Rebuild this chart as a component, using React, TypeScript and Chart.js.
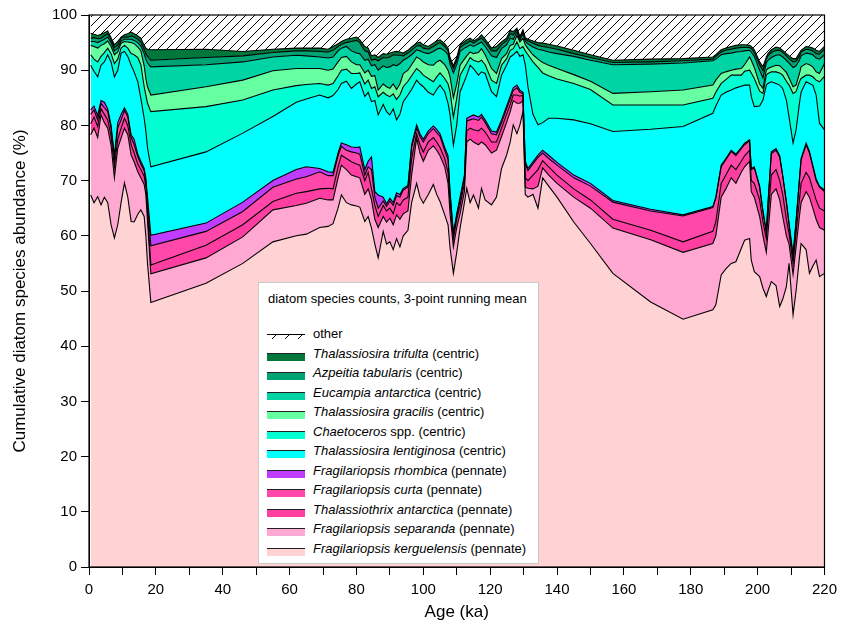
import React, { useEffect, useRef } from 'react';
import { Chart, registerables } from 'chart.js';

Chart.register(...registerables);

const FONT = '"Liberation Sans", Arial, Helvetica, sans-serif';

// Age (ka) of each sample
const ages = [0.5,1.5,2.6,3.6,4.6,5.6,6.6,7.6,8.6,9.6,10.6,11.6,12.6,13.5,14.6,15.5,16.5,17.0,17.5,18.5,
  35,46,55,62,65,69,71.5,73,74.5,75.5,
  77,78.5,80,81,82.5,83.5,84.5,85.5,86.5,88,
  89,90,91,92,93,94,95.4,96.5,98,99,
  100,101.5,103,104,105,106.4,107.4,108,109,110,
  111,112.3,113,114,115,116.5,117.4,118.5,120.4,121.9,
  123.4,124.9,126,126.9,128,128.9,129.8,130.5,131.3,132.8,
  134.3,135.7,137.5,140,145,150,156.7,168,177.7,186.6,
  187.5,189.1,190.5,192.1,193.5,195.1,196.1,197.6,198.1,199,
  200.6,201.6,202.6,203.1,204.1,205.5,206.6,207.5,208.6,209.4,
  210.6,211.5,212.5,213,214.5,215.5,216.5,217.5,218.5,220];

// Cumulative abundance (%) at the top of each species band, bottom to top
const cumKerguelensis = [67.4,66.0,67.1,65.6,67.0,66.0,62.0,59.6,62.0,66.0,69.6,67.0,62.6,62.5,63.9,64.7,63.5,60.0,55.0,47.9,
  51.4,55.0,58.9,60.0,60.3,61.5,61.7,62.2,65.0,67.4,
  66.0,65.6,65.4,65.2,62.6,63.5,61.4,58.5,56.0,60.8,
  58.5,58.9,57.5,59.5,58.0,60.0,61.0,66.0,69.5,67.0,
  65.9,67.5,69.3,67.5,66.2,63.8,62.0,57.8,53.2,57.0,
  61.4,66.0,68.6,66.0,67.4,65.0,68.6,66.5,65.6,67.0,
  72.2,74.6,77.0,80.1,78.5,80.1,82.5,67.5,67.0,67.5,
  65.0,70.5,69.0,67.0,62.5,58.6,53.2,48.0,44.9,46.6,
  47.5,52.9,54.0,55.0,55.3,57.7,59.2,59.5,55.6,53.5,
  52.6,50.5,49.0,50.0,51.7,51.0,47.2,48.5,50.8,55.0,
  45.7,50.0,56.0,58.6,57.5,53.2,54.5,55.6,52.6,53.2];

const cumSeparanda = [78.3,79.5,77.8,81.9,80.5,79.5,76.4,70.5,75.9,77.7,79.5,78.3,74.6,73.4,71.6,70.5,69.3,67.5,62.7,53.1,
  56.0,59.8,64.7,65.5,65.9,66.8,66.5,66.5,70.5,72.8,
  72.0,71.0,70.7,70.5,67.5,68.5,66.5,63.0,61.5,63.5,
  62.5,63.2,62.0,63.8,63.0,64.0,64.5,71.0,77.7,75.0,
  73.5,75.5,76.3,75.5,74.5,72.5,69.5,64.0,58.0,61.5,
  64.0,68.0,77.0,77.5,77.0,76.5,77.0,76.5,75.0,75.5,
  78.0,80.5,82.5,84.5,84.0,84.0,84.5,68.8,68.6,68.5,
  69.0,72.3,71.0,69.5,67.0,65.0,61.4,59.3,57.0,58.6,
  60.0,67.0,68.5,70.5,69.5,71.5,72.5,73.5,68.0,67.0,
  63.5,60.0,57.0,60.5,67.5,68.5,66.5,63.5,60.0,58.5,
  53.0,58.0,63.5,66.0,68.0,67.0,65.0,63.0,61.5,61.0];

const cumThalassiothrix = [80.3,81.5,79.8,83.0,82.0,81.0,78.0,72.5,77.5,79.5,81.3,80.0,76.5,75.0,73.0,72.0,70.8,69.0,64.5,54.7,
  58.3,62.0,66.2,67.7,68.0,68.5,68.6,68.5,72.5,74.6,
  74.0,73.4,73.0,72.8,70.0,71.5,68.5,65.5,63.5,65.5,
  64.5,65.0,64.0,66.0,65.5,66.5,67.0,74.0,78.5,76.5,
  75.2,77.0,77.8,77.0,76.0,74.0,71.5,66.0,59.5,63.0,
  65.5,69.5,79.0,79.5,79.2,79.0,79.5,78.8,77.0,77.0,
  79.5,82.0,83.8,85.5,85.5,85.3,85.5,70.5,70.0,71.0,
  72.0,73.6,72.5,71.0,68.5,66.5,63.0,61.0,58.9,60.8,
  62.5,69.5,71.0,72.8,72.0,73.5,74.5,75.5,70.0,69.5,
  66.5,62.5,59.5,63.5,71.0,72.0,70.0,67.5,63.0,60.5,
  55.0,60.5,66.5,69.5,71.5,70.5,68.5,66.5,65.0,64.5];

const cumCurta = [82.0,82.8,81.0,84.0,83.2,82.5,79.5,74.0,79.5,81.0,82.7,81.5,77.8,76.5,74.3,73.0,71.8,70.0,65.8,58.2,
  60.8,64.4,68.8,70.3,70.7,71.6,70.9,70.9,74.5,76.2,
  75.5,75.2,75.0,74.8,71.0,72.5,72.0,67.0,65.0,66.3,
  65.3,66.3,65.5,67.3,67.0,68.3,68.8,76.0,79.5,78.0,
  77.0,78.5,79.4,78.7,78.0,75.5,73.8,67.5,60.2,63.6,
  66.5,70.5,80.8,81.0,81.2,80.9,81.5,80.5,78.5,78.3,
  80.5,83.0,84.8,86.3,86.8,86.0,85.8,73.0,71.8,73.0,
  74.2,75.0,74.0,72.8,70.5,69.0,66.1,64.5,63.6,65.1,
  66.8,72.5,73.8,75.3,74.5,75.8,76.5,77.2,72.0,72.3,
  68.8,64.3,60.6,65.8,74.9,75.5,74.3,70.8,66.0,62.0,
  56.3,62.5,70.0,73.7,76.5,75.0,72.5,70.0,68.8,68.0];

const cumRhombica = [82.8,83.5,81.8,84.5,84.2,83.0,80.0,74.5,80.5,82.0,83.2,82.0,78.3,77.5,74.8,73.5,72.2,70.4,67.0,60.1,
  62.3,66.1,70.0,72.0,72.5,72.2,71.6,71.5,75.0,76.8,
  76.5,76.1,76.0,76.1,72.0,73.5,74.3,68.0,67.4,67.0,
  65.8,66.8,66.0,67.8,67.5,68.6,69.1,76.5,80.1,78.5,
  77.5,79.0,79.9,79.3,78.5,76.0,74.5,68.0,60.5,64.0,
  67.0,71.0,81.3,81.6,81.9,81.5,82.0,81.0,79.0,78.8,
  81.0,83.5,85.3,86.8,87.3,86.4,86.0,73.5,72.2,73.4,
  74.6,75.5,74.6,73.3,71.0,69.5,66.4,64.8,63.8,65.3,
  67.0,72.8,74.0,75.5,74.8,76.0,76.8,77.4,72.2,72.5,
  69.0,64.5,60.8,66.0,75.2,75.8,74.5,71.0,66.3,62.3,
  56.5,62.8,70.3,74.0,76.8,75.3,72.8,70.3,69.0,68.3];

const cumLentiginosa = [90.9,89.8,88.8,90.9,91.5,92.8,91.5,88.8,90.0,93.1,93.4,92.5,90.9,89.7,87.9,84.9,81.3,79.0,75.9,72.5,
  75.2,78.6,81.6,84.2,84.8,85.5,85.0,85.4,86.5,87.6,
  88.0,86.7,87.5,87.9,85.2,86.0,84.3,84.5,81.9,83.8,
  82.5,81.9,83.0,81.0,82.0,84.3,85.5,86.5,88.2,87.5,
  87.0,86.0,85.5,86.5,87.3,86.1,84.0,81.9,76.4,80.1,
  86.1,88.0,89.1,90.9,90.3,89.1,89.7,89.4,86.1,85.2,
  89.1,90.9,92.4,92.8,93.4,92.5,92.8,91.0,87.0,82.0,
  80.1,80.5,81.3,81.3,81.0,80.3,78.9,79.3,79.8,82.2,
  83.5,85.5,86.0,86.4,86.8,87.1,87.3,87.3,85.2,83.4,
  83.5,84.6,87.3,87.6,87.9,87.6,87.3,86.7,84.6,81.5,
  76.8,79.2,84.0,86.0,87.9,87.6,87.3,85.5,80.4,79.2];

const cumChaetoceros = [92.8,92.0,91.5,92.5,93.2,94.0,93.0,91.2,92.0,94.0,94.5,94.0,93.0,92.8,92.3,91.0,87.0,85.5,84.0,82.5,
  83.4,84.6,86.4,87.2,87.4,87.6,87.3,87.6,89.0,90.0,
  90.2,89.4,89.4,89.5,87.5,88.2,86.7,87.0,85.2,86.0,
  85.5,85.2,85.7,84.7,85.5,87.0,88.0,89.0,90.3,89.8,
  89.1,88.5,87.9,88.8,89.5,88.5,87.5,86.1,81.5,84.9,
  89.1,90.5,91.2,92.3,91.8,91.5,91.8,91.0,88.2,87.6,
  90.9,92.1,93.6,93.9,95.1,93.9,94.3,93.5,92.8,91.5,
  90.5,89.5,89.0,88.4,87.6,86.5,83.7,83.7,83.7,84.9,
  86.0,87.6,88.3,89.1,89.1,89.1,89.8,90.0,89.5,88.5,
  86.2,85.8,89.1,89.4,89.7,89.7,89.5,89.1,88.0,87.3,
  85.8,86.1,87.9,88.5,89.1,89.1,88.8,88.2,87.9,88.9];

const cumGracilis = [94.5,94.3,94.0,94.5,94.8,95.3,94.3,92.8,93.3,94.9,95.2,95.1,95.0,94.8,94.2,93.5,90.8,88.5,87.0,85.5,
  87.0,88.2,89.9,90.3,90.3,90.3,90.0,90.2,91.5,92.3,
  92.5,91.5,91.0,91.0,89.5,90.0,88.9,89.0,86.4,87.5,
  87.0,86.7,87.5,86.5,87.5,89.4,90.0,91.0,92.4,92.0,
  91.5,91.0,90.9,91.5,91.8,91.0,90.0,88.8,85.0,87.5,
  90.9,92.0,92.6,93.3,93.0,93.2,93.9,92.8,90.3,89.4,
  92.1,93.0,94.5,94.7,96.3,95.1,95.8,94.6,93.9,92.8,
  92.0,91.4,90.9,90.3,89.2,88.0,85.8,86.1,86.4,87.3,
  88.2,89.4,89.7,90.0,90.2,90.3,91.0,92.4,91.8,90.5,
  87.5,86.7,90.0,90.3,90.6,90.9,90.8,90.3,89.6,88.6,
  87.0,87.3,89.4,90.6,91.2,91.0,90.6,89.7,89.4,91.2];

const cumEucampia = [95.2,95.2,95.0,95.3,95.6,96.0,95.0,93.5,94.0,95.3,95.6,95.6,95.6,95.4,95.0,94.4,93.0,92.0,91.3,90.6,
  91.0,91.5,92.4,92.7,92.6,92.4,92.2,92.4,93.5,94.0,
  94.3,93.5,93.1,93.0,91.8,92.0,90.8,91.0,90.0,90.8,
  90.5,90.6,91.0,90.8,91.2,91.8,92.3,92.8,93.7,93.5,
  93.2,93.0,93.4,93.8,94.0,93.5,92.8,91.0,89.5,91.0,
  93.4,94.0,94.2,94.6,94.3,94.8,95.1,94.3,92.6,92.3,
  93.9,94.6,95.8,95.6,96.9,95.4,96.6,95.2,94.8,94.2,
  93.8,93.6,93.3,93.0,92.5,91.8,91.0,91.1,91.3,91.7,
  92.0,92.8,93.0,93.1,93.3,93.4,93.5,93.6,93.3,92.5,
  90.0,88.6,91.3,91.8,92.3,92.7,92.8,92.4,91.8,91.3,
  90.5,90.8,91.8,92.6,93.1,93.0,92.8,92.2,92.0,92.8];

const cumAzpeitia = [95.8,95.9,95.7,95.8,96.2,96.6,95.5,94.1,94.6,95.8,96.0,96.0,96.2,96.0,95.6,95.1,93.8,93.0,92.5,91.8,
  92.3,92.6,93.2,93.5,93.5,93.4,93.3,93.6,94.3,94.7,
  95.0,95.2,95.4,95.0,93.5,93.3,91.8,92.0,91.7,92.3,
  92.2,92.4,92.8,92.7,92.7,92.6,93.1,93.6,94.4,94.5,
  94.0,93.8,94.3,94.7,95.0,94.3,93.5,91.8,90.3,91.8,
  94.1,94.7,94.9,95.3,94.9,95.5,95.8,95.1,93.5,93.5,
  94.6,95.3,96.6,96.4,97.3,95.8,97.0,95.6,95.3,94.9,
  94.5,94.3,94.1,93.8,93.0,92.3,91.4,91.5,91.7,92.0,
  92.5,93.3,93.6,93.8,94.0,94.1,94.1,94.1,93.9,93.2,
  91.0,89.9,92.0,92.6,93.2,93.6,93.6,93.2,92.6,92.1,
  91.5,91.6,92.5,93.3,93.8,93.7,93.5,93.0,92.9,93.8];

const cumTrifulta = [96.7,96.5,96.3,96.5,96.8,97.1,95.9,94.6,95.2,96.0,96.4,96.6,96.9,96.6,96.2,95.8,94.5,94.0,93.8,93.7,
  93.8,93.4,93.8,94.0,94.0,94.0,93.8,94.3,94.8,95.2,
  95.6,95.8,96.0,95.5,94.3,94.0,92.6,92.8,92.3,93.0,
  92.9,93.1,93.3,93.4,93.3,93.1,93.6,94.2,94.9,95.1,
  94.6,94.3,94.9,95.3,95.5,94.8,94.0,92.3,90.8,92.3,
  94.6,95.2,95.5,95.8,95.3,95.8,96.4,95.6,94.0,94.3,
  95.1,95.8,97.2,97.0,97.6,96.1,97.3,95.9,95.6,95.3,
  95.0,94.9,94.7,94.4,93.6,92.8,91.8,92.0,92.1,92.4,
  92.8,93.7,94.0,94.3,94.5,94.6,94.6,94.5,94.3,93.7,
  91.5,90.6,92.4,93.0,93.7,94.2,94.0,93.6,93.0,92.6,
  92.1,92.1,93.1,93.6,94.3,94.2,94.0,93.6,93.4,94.3];

const xTicks = [0, 20, 40, 60, 80, 100, 120, 140, 160, 180, 200, 220];

const layers = [
  { genus: 'Fragilariopsis kerguelensis', rest: ' (pennate)', color: '#ffd3d3', data: cumKerguelensis },
  { genus: 'Fragilariopsis separanda', rest: ' (pennate)', color: '#ffa8d2', data: cumSeparanda },
  { genus: 'Thalassiothrix antarctica', rest: ' (pennate)', color: '#ff3ea2', data: cumThalassiothrix },
  { genus: 'Fragilariopsis curta', rest: ' (pennate)', color: '#ff48aa', data: cumCurta },
  { genus: 'Fragilariopsis rhombica', rest: ' (pennate)', color: '#c03cff', data: cumRhombica },
  { genus: 'Thalassiosira lentiginosa', rest: ' (centric)', color: '#00ffff', data: cumLentiginosa },
  { genus: 'Chaetoceros', rest: ' spp. (centric)', color: '#00ffd2', data: cumChaetoceros },
  { genus: 'Thalassiosira gracilis', rest: ' (centric)', color: '#66ffa2', data: cumGracilis },
  { genus: 'Eucampia antarctica', rest: ' (centric)', color: '#00d4a4', data: cumEucampia },
  { genus: 'Azpeitia tabularis', rest: ' (centric)', color: '#00a374', data: cumAzpeitia },
  { genus: 'Thalassiosira trifulta', rest: ' (centric)', color: '#00783c', data: cumTrifulta },
];

function makeHatch(): CanvasPattern | string {
  const c = document.createElement('canvas');
  c.width = 9;
  c.height = 9;
  const g = c.getContext('2d');
  if (!g) return '#fff';
  g.fillStyle = '#ffffff';
  g.fillRect(0, 0, 9, 9);
  g.strokeStyle = '#000000';
  g.lineWidth = 1;
  g.beginPath();
  g.moveTo(-1, 10);
  g.lineTo(10, -1);
  g.stroke();
  g.beginPath();
  g.moveTo(-1, 1);
  g.lineTo(1, -1);
  g.stroke();
  g.beginPath();
  g.moveTo(8, 10);
  g.lineTo(10, 8);
  g.stroke();
  return g.createPattern(c, 'repeat') || '#fff';
}

const framePlugin = {
  id: 'frame',
  afterDatasetsDraw(chart: any) {
    const { ctx, chartArea } = chart;
    ctx.save();
    ctx.strokeStyle = '#000';
    ctx.lineWidth = 1.2;
    ctx.strokeRect(chartArea.left, chartArea.top, chartArea.right - chartArea.left, chartArea.bottom - chartArea.top);
    ctx.restore();
  },
};

function LegendSwatch({ color, hatch }: { color?: string; hatch?: boolean }) {
  if (hatch) {
    return (
      <svg width={38} height={8} style={{ display: 'block' }}>
        <line x1={0} y1={0.5} x2={38} y2={0.5} stroke="#000" strokeWidth={1} />
        <line x1={5} y1={5} x2={9} y2={1} stroke="#000" strokeWidth={1} />
        <line x1={18} y1={5} x2={22} y2={1} stroke="#000" strokeWidth={1} />
        <line x1={31} y1={5} x2={35} y2={1} stroke="#000" strokeWidth={1} />
      </svg>
    );
  }
  return (
    <div style={{ width: 38, height: 8, background: color, borderTop: '1px solid #222', boxSizing: 'border-box' }} />
  );
}

export default function App() {
  const ref = useRef<HTMLCanvasElement | null>(null);

  useEffect(() => {
    document.body.style.margin = '0';
    const canvas = ref.current;
    if (!canvas) return;
    const hatch = makeHatch();
    const datasets: any[] = layers.map((l, i) => ({
      label: l.genus,
      data: ages.map((a, j) => ({ x: a, y: l.data[j] })),
      backgroundColor: l.color,
      borderColor: '#000',
      borderWidth: 1.1,
      pointRadius: 0,
      tension: 0,
      fill: i === 0 ? 'origin' : '-1',
    }));
    datasets.push({
      label: 'other',
      data: ages.map((a, j) => ({ x: a, y: cumTrifulta[j] })),
      backgroundColor: hatch,
      borderColor: 'rgba(0,0,0,0)',
      borderWidth: 0,
      pointRadius: 0,
      tension: 0,
      fill: 'end',
    });

    const chart = new Chart(canvas, {
      type: 'line',
      data: { datasets },
      plugins: [framePlugin],
      options: {
        animation: false,
        responsive: false,
        devicePixelRatio: 1,
        layout: { padding: { left: 0, top: 15, right: 18, bottom: 0 } },
        plugins: {
          legend: { display: false },
          tooltip: { enabled: false },
          filler: { drawTime: 'beforeDatasetsDraw' },
        } as any,
        scales: {
          x: {
            type: 'linear',
            min: 0,
            max: 220,
            afterFit: (s: any) => { s.height = 63; },
            ticks: {
              stepSize: 10,
              autoSkip: false,
              maxRotation: 0,
              color: '#000',
              padding: 6,
              font: { family: FONT, size: 15 },
              callback: (v: any) => (xTicks.includes(Number(v)) ? String(v) : ''),
            },
            grid: { drawOnChartArea: false, drawTicks: true, tickLength: 8, color: '#000', lineWidth: 1 },
            border: { display: true, color: '#000', width: 1 },
            title: {
              display: true,
              text: 'Age (ka)',
              color: '#000',
              font: { family: FONT, size: 17 },
              padding: { top: 0, bottom: 7 },
            },
          },
          y: {
            min: 0,
            max: 100,
            afterFit: (s: any) => { s.width = 89; },
            ticks: {
              stepSize: 10,
              color: '#000',
              padding: 4,
              font: { family: FONT, size: 15 },
            },
            grid: { drawOnChartArea: false, drawTicks: true, tickLength: 8, color: '#000', lineWidth: 1 },
            border: { display: true, color: '#000', width: 1 },
            title: {
              display: true,
              text: 'Cumulative diatom species abundance (%)',
              color: '#000',
              font: { family: FONT, size: 17 },
              padding: { top: 10, bottom: 0 },
            },
          },
        },
      } as any,
    });
    return () => chart.destroy();
  }, []);

  const legendRows = [...layers].reverse();
  const rowTop = (k: number) => 69.5 + k * 19.5;

  return (
    <div style={{ position: 'fixed', left: 0, top: 0, width: 843, height: 630, background: '#fff', fontFamily: FONT }}>
      <canvas ref={ref} width={843} height={630} style={{ position: 'absolute', left: 0, top: 0, width: 843, height: 630 }} />
      <div
        style={{
          position: 'absolute',
          left: 258,
          top: 282,
          width: 281,
          height: 282,
          border: '1px solid #c8c8c8',
          background: '#fff',
          boxSizing: 'border-box',
          fontSize: 13,
          color: '#000',
        }}
      >
        <div style={{ position: 'absolute', left: 9, top: 8, lineHeight: '16px', whiteSpace: 'nowrap' }}>
          diatom species counts, 3-point running mean
        </div>
        <div style={{ position: 'absolute', left: 8, top: 51 }}>
          <LegendSwatch hatch />
        </div>
        <div style={{ position: 'absolute', left: 54, top: 43, lineHeight: '16px', whiteSpace: 'nowrap' }}>other</div>
        {legendRows.map((l, k) => (
          <React.Fragment key={l.genus}>
            <div style={{ position: 'absolute', left: 8, top: rowTop(k) }}>
              <LegendSwatch color={l.color} />
            </div>
            <div style={{ position: 'absolute', left: 54, top: rowTop(k) - 7, lineHeight: '16px', whiteSpace: 'nowrap' }}>
              <i>{l.genus}</i>
              {l.rest}
            </div>
          </React.Fragment>
        ))}
      </div>
    </div>
  );
}
